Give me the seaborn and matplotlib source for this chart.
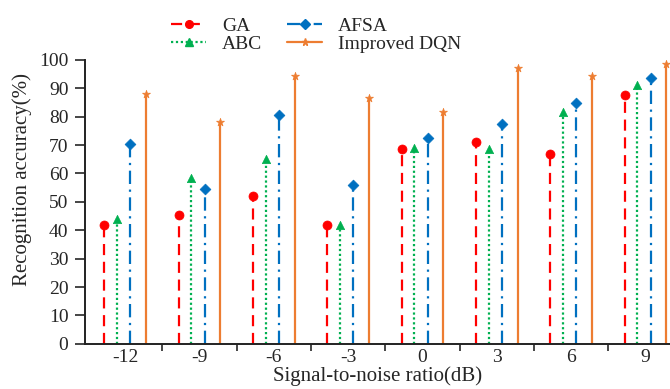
import matplotlib
matplotlib.use("Agg")
import matplotlib.pyplot as plt
import seaborn as sns
from matplotlib.lines import Line2D
import numpy as np

sns.set_style("ticks")
plt.rcParams["font.family"] = ["Liberation Serif", "DejaVu Serif"]

snr_labels = ["-12", "-9", "-6", "-3", "0", "3", "6", "9"]
ga = [42, 45.5, 52, 42, 68.5, 71, 67, 87.5]
abc = [44, 58.5, 65, 42, 69, 68.5, 81.5, 91]
afsa = [70.5, 54.5, 80.5, 56, 72.5, 77.5, 85, 93.5]
dqn = [88, 78, 94.5, 86.5, 81.5, 97, 94.5, 98.5]

series = [
    ("GA", ga, "#FF0000", "o", (0, (5, 3)), 6.5, -0.28),
    ("ABC", abc, "#00B050", "^", (0, (1, 1.2)), 6, -0.11),
    ("AFSA", afsa, "#0070C0", "D", (0, (6, 2.5, 1, 2.5)), 5.5, 0.07),
    ("Improved DQN", dqn, "#ED7D31", "*", "-", 6, 0.28),
]

fig = plt.figure(figsize=(6.7, 3.89), dpi=100)
ax = fig.add_axes([0.127, 0.116, 0.873, 0.73])

pos = np.arange(len(snr_labels))
handles = []
for name, vals, color, marker, ls, ms, off in series:
    x = pos + off
    ax.vlines(x, 0, vals, colors=color, linestyles=[ls], linewidth=1.6, zorder=2)
    sns.scatterplot(x=x, y=vals, color=color, marker=marker, s=ms ** 2,
                    edgecolor=color, linewidth=0.5, ax=ax, zorder=3, legend=False)
    handles.append(Line2D([0], [0], color=color, linestyle=ls, linewidth=1.6,
                          marker=marker, markersize=ms * 0.85, label=name))

ax.set_xlim(-0.54, 7.33)
ax.set_ylim(0, 100)
ax.set_yticks(range(0, 101, 10))
ax.set_xticks(pos)
ax.set_xticklabels(snr_labels)
ax.set_xticks(pos[:-1] + 0.5, minor=True)
ax.tick_params(axis="x", which="major", length=0, labelsize=14, pad=4)
ax.tick_params(axis="x", which="minor", length=5, width=1.2, direction="out")
ax.tick_params(axis="y", length=7, width=1.2, direction="out", labelsize=14, pad=5)

for side in ["top", "right"]:
    ax.spines[side].set_visible(False)
for side in ["left", "bottom"]:
    ax.spines[side].set_linewidth(1.4)
    ax.spines[side].set_color("#222222")

ax.set_xlabel("Signal-to-noise ratio(dB)", fontsize=15, labelpad=0)
ax.set_ylabel("Recognition accuracy(%)", fontsize=15)
ax.yaxis.set_label_coords(-0.09, 0.58)

fig.legend(handles=handles, ncol=2, loc="upper center", bbox_to_anchor=(0.472, 0.98),
           frameon=False, fontsize=14, handlelength=1.8, columnspacing=1.3,
           labelspacing=0.0, handletextpad=0.8, borderpad=0)

fig.savefig("out.png", dpi=100)
